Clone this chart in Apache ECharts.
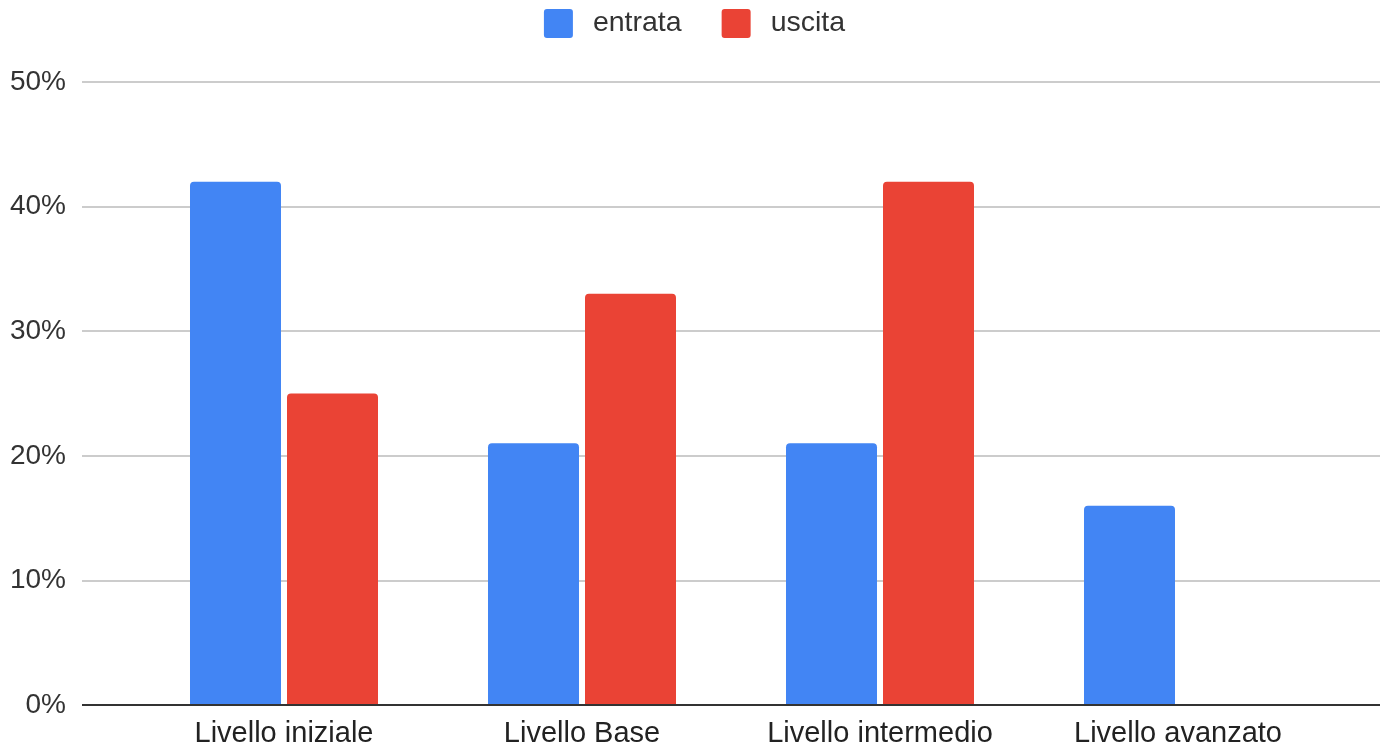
<!DOCTYPE html>
<html><head><meta charset="utf-8">
<script src="https://cdn.jsdelivr.net/npm/echarts@6/dist/echarts.min.js"></script>
<style>html,body{margin:0;padding:0;background:#fff}#c{width:1389px;height:754px}</style>
</head><body><div id="c"></div>
<script>
var categories = ['Livello iniziale', 'Livello Base', 'Livello intermedio', 'Livello avanzato'];
var entrata = [42, 21, 21, 16];
var uscita = [25, 33, 42, 0];
var seriesNames = ['entrata', 'uscita'];
var yTicks = [0, 10, 20, 30, 40, 50];

var chart = echarts.init(document.getElementById('c'));
var font = '"Liberation Sans", Arial, sans-serif';
chart.setOption({
  animation: false,
  color: ['#4285F4', '#EA4335'],
  legend: {
    top: 4, left: 'center',
    itemWidth: 29, itemHeight: 29, itemGap: 40,
    icon: 'path://M3,0 H26 Q29,0 29,3 V26 Q29,29 26,29 H3 Q0,29 0,26 V3 Q0,0 3,0 Z',
    textStyle: { fontSize: 28.5, color: '#333', fontFamily: font, padding: [0, 0, 0, 15] },
    data: seriesNames
  },
  grid: [
    { left: 82, right: 9, top: 82, bottom: 49, containLabel: false },
    { left: 135, right: 62, top: 82, bottom: 49, containLabel: false }
  ],
  xAxis: [
    { gridIndex: 0, type: 'value', min: 0, max: 1, show: false },
    { gridIndex: 1, type: 'category', data: categories,
      axisLine: { show: false }, axisTick: { show: false },
      axisLabel: { fontSize: 29, color: '#222', fontFamily: font, margin: 14 } }
  ],
  yAxis: [
    { gridIndex: 0, type: 'value', min: 0, max: 50, interval: 10,
      axisLabel: { fontSize: 28, color: '#333', fontFamily: font, margin: 16,
        formatter: function (v) { return v + '%'; } },
      axisLine: { show: false }, axisTick: { show: false },
      splitLine: { lineStyle: { color: '#cccccc', width: 2 } } },
    { gridIndex: 1, type: 'value', min: 0, max: 50, interval: 10, show: false }
  ],
  series: [
    { name: seriesNames[0], type: 'bar', xAxisIndex: 1, yAxisIndex: 1, data: entrata,
      barWidth: 91, barGap: '6.6%', itemStyle: { borderRadius: [4, 4, 0, 0] } },
    { name: seriesNames[1], type: 'bar', xAxisIndex: 1, yAxisIndex: 1, data: uscita,
      barWidth: 91, barGap: '6.6%', itemStyle: { borderRadius: [4, 4, 0, 0] } },
    { type: 'line', xAxisIndex: 0, yAxisIndex: 0, data: [[0, 0], [1, 0]],
      symbol: 'none', silent: true, z: 5,
      lineStyle: { color: '#333', width: 2 } }
  ]
});
</script></body></html>
